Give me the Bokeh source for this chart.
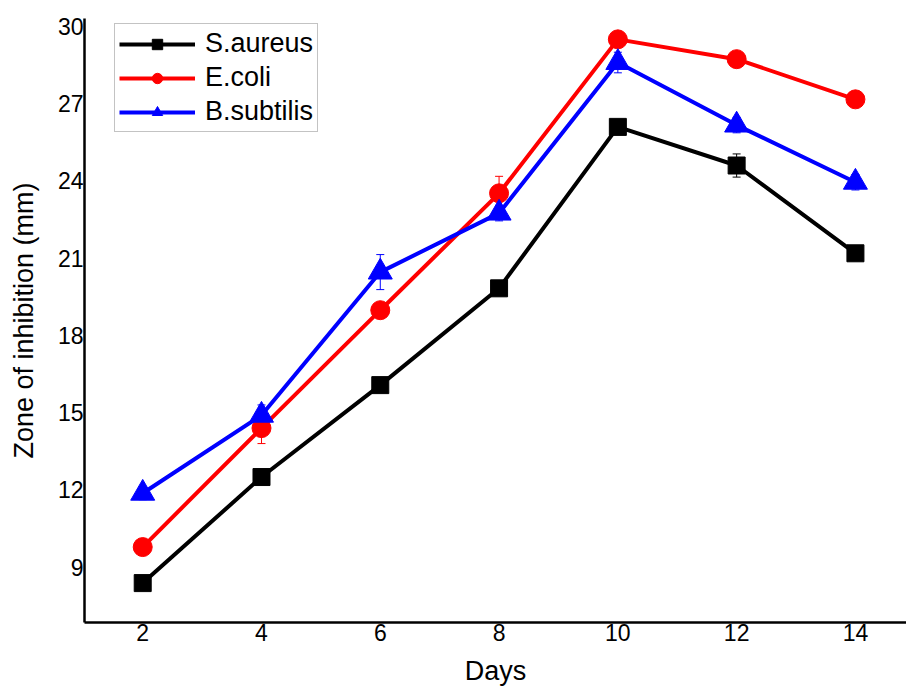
from bokeh.plotting import figure
from bokeh.models import FixedTicker, Range1d, Whisker, ColumnDataSource, TeeHead, Legend, LegendItem
from bokeh.embed import file_html
from bokeh.resources import INLINE

# Incubation days and zone of inhibition (mm) for each organism
days = [2, 4, 6, 8, 10, 12, 14]
s_aureus = [8.38, 12.5, 16.07, 19.83, 26.1, 24.6, 21.19]
e_coli = [9.78, 14.4, 18.98, 23.52, 29.5, 28.73, 27.17]
b_subtilis = [11.87, 14.9, 20.46, 22.75, 28.6, 26.17, 23.95]

# Standard deviations shown as error bars
s_aureus_err = [0.15, 0.2, 0.2, 0.2, 0.2, 0.45, 0.2]
e_coli_err = [0.15, 0.6, 0.2, 0.66, 0.2, 0.2, 0.2]
b_subtilis_err = [0.25, 0.4, 0.68, 0.3, 0.4, 0.3, 0.3]

y_ticks = [9, 12, 15, 18, 21, 24, 27, 30]
x_ticks = [2, 4, 6, 8, 10, 12, 14]

FONT = "Liberation Sans"

p = figure(width=906, height=688, output_backend="svg", toolbar_location=None,
           x_range=Range1d(1.02, 14.86), y_range=Range1d(6.85, 30.31),
           min_border_left=84, min_border_right=0, min_border_top=18, min_border_bottom=66)
p.background_fill_color = "white"
p.border_fill_color = "white"
p.outline_line_color = None
p.xgrid.visible = False
p.ygrid.visible = False

for ax in (p.xaxis[0], p.yaxis[0]):
    ax.axis_line_color = "black"
    ax.axis_line_width = 2.5
    ax.major_tick_in = 0
    ax.major_tick_out = 0
    ax.minor_tick_in = 0
    ax.minor_tick_out = 0
    ax.major_label_text_font = FONT
    ax.major_label_text_font_size = "23px"
    ax.major_label_text_color = "black"
    ax.axis_label_text_font = FONT
    ax.axis_label_text_font_style = "normal"
    ax.axis_label_text_font_size = "27px"
    ax.axis_label_text_color = "black"
    ax.major_label_standoff = 1

p.xaxis.ticker = FixedTicker(ticks=x_ticks)
p.yaxis.ticker = FixedTicker(ticks=y_ticks)
p.xaxis.axis_label = "Days"
p.yaxis.axis_label = "Zone of inhibition (mm)"
p.xaxis.axis_label_standoff = 12
p.yaxis.axis_label_standoff = 16

series = [
    ("S.aureus", s_aureus, s_aureus_err, "black", "square", 17),
    ("E.coli", e_coli, e_coli_err, "red", "circle", 19),
    ("B.subtilis", b_subtilis, b_subtilis_err, "blue", "triangle", 24),
]

items = []
for name, vals, errs, color, marker, size in series:
    src = ColumnDataSource(dict(
        x=days, y=vals,
        lower=[v - e for v, e in zip(vals, errs)],
        upper=[v + e for v, e in zip(vals, errs)],
    ))
    w = Whisker(source=src, base="x", lower="lower", upper="upper",
                line_color=color, line_width=1,
                upper_head=TeeHead(size=8, line_color=color, line_width=1),
                lower_head=TeeHead(size=8, line_color=color, line_width=1))
    p.add_layout(w)
    ln = p.line("x", "y", source=src, line_color=color, line_width=4)
    sc = p.scatter("x", "y", source=src, marker=marker, size=size,
                   fill_color=color, line_color=color)
    items.append(LegendItem(label=name, renderers=[ln, sc]))

legend = Legend(items=items, location=(30, 490))
legend.label_text_font = FONT
legend.label_text_font_size = "27px"
legend.label_text_color = "black"
legend.glyph_width = 76
legend.glyph_height = 26
legend.label_standoff = 10
legend.label_height = 26
legend.spacing = 3
legend.padding = 4
legend.margin = 0
legend.border_line_color = "#888888"
legend.border_line_width = 1.5
legend.background_fill_color = "white"
p.add_layout(legend, "center")

open("out.html", "w").write(file_html(p, INLINE))
